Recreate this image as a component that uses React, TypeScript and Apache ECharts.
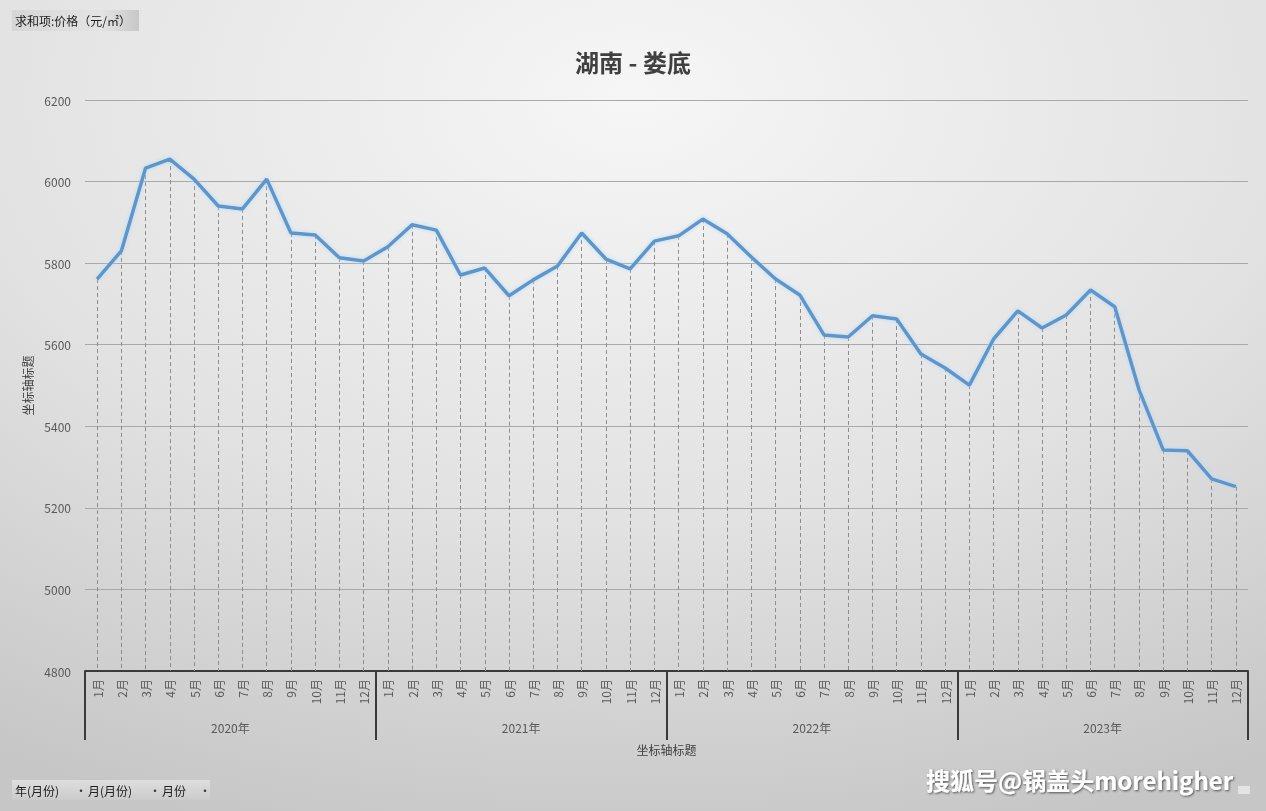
import React, { useEffect, useRef } from "react";
import * as echarts from "echarts";

const years = ["2020年", "2021年", "2022年", "2023年"];
const months = ["1月", "2月", "3月", "4月", "5月", "6月", "7月", "8月", "9月", "10月", "11月", "12月"];
const categories: string[] = [];
years.forEach((y) => months.forEach((m) => categories.push(y + "|" + m)));

const prices2020 = [5761, 5830, 6033, 6055, 6006, 5940, 5933, 6006, 5874, 5869, 5813, 5805];
const prices2021 = [5840, 5894, 5881, 5771, 5788, 5720, 5759, 5793, 5874, 5810, 5786, 5854];
const prices2022 = [5867, 5908, 5872, 5815, 5761, 5722, 5624, 5619, 5671, 5663, 5577, 5543];
const prices2023 = [5501, 5614, 5683, 5641, 5673, 5734, 5693, 5490, 5342, 5340, 5271, 5252];
const prices = [...prices2020, ...prices2021, ...prices2022, ...prices2023];

const yMin = 4800;
const yMax = 6200;
const yStep = 200;

const FONT = "'Noto Sans CJK SC', 'Noto Sans', sans-serif";

export default function App() {
  const ref = useRef<HTMLDivElement>(null);
  useEffect(() => {
    if (!ref.current) return;
    const chart = echarts.init(ref.current, undefined, { renderer: "svg" });
    const dropLines = prices.map((v, i) => [
      { coord: [i, v] },
      { coord: [i, yMin] },
    ]);
    chart.setOption({
      animation: false,
      backgroundColor: {
        type: "radial",
        x: 0.5,
        y: 0.12,
        r: 0.95,
        colorStops: [
          { offset: 0, color: "#f6f6f6" },
          { offset: 0.55, color: "#e2e2e2" },
          { offset: 1, color: "#c6c6c6" },
        ],
      },
      textStyle: { fontFamily: FONT },
      title: {
        text: "湖南 - 娄底",
        left: "center",
        top: 44,
        textStyle: { fontSize: 24, fontWeight: "bold", color: "#404040", fontFamily: FONT },
      },
      grid: { left: 85, right: 18, top: 100, bottom: 140 },
      xAxis: [
        {
          type: "category",
          data: categories,
          boundaryGap: true,
          position: "bottom",
          axisLine: { show: true, lineStyle: { color: "#3a3a3a", width: 2 } },
          axisTick: { show: false },
          axisLabel: {
            interval: 0,
            rotate: 90,
            margin: 8,
            fontSize: 12,
            color: "#595959",
            fontFamily: FONT,
            formatter: (v: string) => v.split("|")[1],
          },
        },
        {
          type: "category",
          data: years,
          boundaryGap: true,
          position: "bottom",
          axisLine: { show: false },
          axisTick: { show: true, length: 69, lineStyle: { color: "#3a3a3a", width: 2 } },
          axisLabel: { interval: 0, margin: 50, fontSize: 12, color: "#595959", fontFamily: FONT },
          name: "坐标轴标题",
          nameLocation: "middle",
          nameGap: 72,
          nameTextStyle: { fontSize: 12, color: "#404040", fontFamily: FONT },
        },
      ],
      yAxis: {
        type: "value",
        min: yMin,
        max: yMax,
        interval: yStep,
        axisLine: { show: false },
        axisTick: { show: false },
        axisLabel: {
          fontSize: 12,
          color: "#595959",
          margin: 14,
          fontFamily: FONT,
          formatter: (v: number) => String(v),
        },
        splitLine: { show: true, lineStyle: { color: "#a9a9a9", width: 1 } },
        name: "坐标轴标题",
        nameLocation: "middle",
        nameGap: 46,
        nameRotate: 90,
        nameTextStyle: { fontSize: 12, color: "#404040", fontFamily: FONT },
      },
      series: [
        {
          type: "line",
          data: prices,
          xAxisIndex: 0,
          symbol: "none",
          lineStyle: {
            color: "#5b96cc",
            width: 3.5,
            shadowColor: "rgba(180,215,240,0.9)",
            shadowBlur: 4,
          },
          markLine: {
            silent: true,
            symbol: ["none", "none"],
            label: { show: false },
            lineStyle: { type: [4, 3], color: "#8c8c8c", width: 1 },
            data: dropLines,
            z: 1,
          },
          z: 3,
        },
      ],
      graphic: [
        {
          type: "rect",
          shape: { x: 12, y: 10, width: 127, height: 21 },
          style: {
            fill: {
              type: "linear", x: 0, y: 0, x2: 1, y2: 0,
              colorStops: [
                { offset: 0, color: "#d6d6d6" },
                { offset: 0.7, color: "#e4e4e4" },
                { offset: 1, color: "#c8c8c8" },
              ],
            },
          },
        },
        {
          type: "text",
          x: 15,
          y: 20,
          style: { text: "求和项:价格（元/㎡）", fontSize: 12, fill: "#202020", verticalAlign: "middle", fontFamily: FONT },
        },
        {
          type: "rect",
          shape: { x: 12, y: 780, width: 198, height: 20 },
          style: {
            fill: {
              type: "linear", x: 0, y: 0, x2: 0, y2: 1,
              colorStops: [
                { offset: 0, color: "#dedede" },
                { offset: 1, color: "#cbcbcb" },
              ],
            },
          },
        },
        { type: "text", x: 15, y: 790, style: { text: "年(月份)", fontSize: 12, fill: "#202020", verticalAlign: "middle", fontFamily: FONT } },
        { type: "text", x: 75, y: 790, style: { text: "·", fontSize: 12, fill: "#404040", verticalAlign: "middle", fontFamily: FONT } },
        { type: "text", x: 88, y: 790, style: { text: "月(月份)", fontSize: 12, fill: "#202020", verticalAlign: "middle", fontFamily: FONT } },
        { type: "text", x: 149, y: 790, style: { text: "·", fontSize: 12, fill: "#404040", verticalAlign: "middle", fontFamily: FONT } },
        { type: "text", x: 162, y: 790, style: { text: "月份", fontSize: 12, fill: "#202020", verticalAlign: "middle", fontFamily: FONT } },
        { type: "text", x: 199, y: 790, style: { text: "·", fontSize: 12, fill: "#404040", verticalAlign: "middle", fontFamily: FONT } },
        {
          type: "text",
          x: 926,
          y: 779,
          style: {
            text: "搜狐号@锅盖头morehigher",
            fontSize: 24,
            fontWeight: "bold",
            fill: "#ffffff",
            verticalAlign: "middle",
            fontFamily: FONT,
            textShadowColor: "rgba(0,0,0,0.6)",
            textShadowBlur: 2,
            textShadowOffsetX: 1,
            textShadowOffsetY: 1,
          },
        },
        {
          type: "rect",
          shape: { x: 1238, y: 786, width: 12, height: 8 },
          style: { fill: "#e4e4e4" },
        },
      ],
    });
    return () => chart.dispose();
  }, []);
  return <div ref={ref} style={{ position: "fixed", left: 0, top: 0, width: 1266, height: 811 }} />;
}
